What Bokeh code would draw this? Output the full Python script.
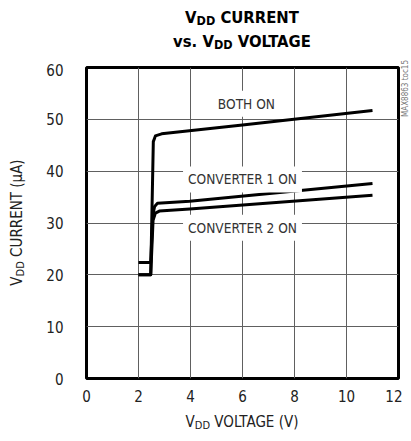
from bokeh.plotting import figure
from bokeh.models import Label, Range1d, FixedTicker, Div
from bokeh.layouts import row, column
from bokeh.embed import file_html
from bokeh.resources import INLINE

# ---- data ----
x_ticks = [0, 2, 4, 6, 8, 10, 12]
y_ticks = [0, 10, 20, 30, 40, 50, 60]

both_x = [2.0, 2.47, 2.57, 2.65, 2.89, 6.0, 11.0]
both_y = [20.0, 20.0, 45.7, 46.8, 47.2, 48.9, 51.7]

conv1_x = [2.0, 2.47, 2.55, 2.62, 2.73, 3.97, 11.0]
conv1_y = [22.4, 22.4, 31.5, 33.2, 33.8, 34.2, 37.6]

conv2_x = [2.0, 2.47, 2.56, 2.65, 2.8, 3.97, 11.0]
conv2_y = [20.0, 20.0, 30.5, 31.9, 32.3, 32.7, 35.35]

labels = ["BOTH ON", "CONVERTER 1 ON", "CONVERTER 2 ON"]
label_x = [6.15, 6.0, 6.0]
label_y = [53.0, 38.4, 29.1]

FONT = "'Liberation Sans Narrow', 'DejaVu Sans Condensed', 'Liberation Sans', sans-serif"

YL_W, TAG_W = 32, 9
B_LEFT, B_TOP, B_RIGHT, B_BOTTOM = 54, 4, 4, 30
FW, FH = 312, 311
TITLE_H = 63
FIG_W = B_LEFT + FW + B_RIGHT
FIG_H = B_TOP + FH + B_BOTTOM
TOTAL_H = 441
XL_H = TOTAL_H - TITLE_H - FIG_H

p = figure(frame_width=FW, frame_height=FH, min_border_left=B_LEFT, min_border_top=B_TOP,
           min_border_right=B_RIGHT, min_border_bottom=B_BOTTOM,
           output_backend="svg", toolbar_location=None,
           x_range=Range1d(0, 12), y_range=Range1d(0, 60))
p.background_fill_color = "white"
p.border_fill_color = "white"
p.outline_line_color = "black"
p.outline_line_width = 3

for ax, ticks, stand in ((p.xaxis, x_ticks, 11), (p.yaxis, y_ticks, 23)):
    ax.ticker = FixedTicker(ticks=ticks)
    ax.axis_line_color = None
    ax.major_tick_line_color = None
    ax.minor_tick_line_color = None
    ax.major_tick_out = 0
    ax.major_tick_in = 0
    ax.major_label_text_font = FONT
    ax.major_label_text_font_size = "15px"
    ax.major_label_text_color = "#222222"
    ax.major_label_standoff = stand

p.xgrid.ticker = FixedTicker(ticks=x_ticks)
p.ygrid.ticker = FixedTicker(ticks=y_ticks)
p.grid.grid_line_color = "#606060"
p.grid.grid_line_width = 1

for xs, ys in ((both_x, both_y), (conv1_x, conv1_y), (conv2_x, conv2_y)):
    p.line(xs, ys, line_color="black", line_width=3, line_join="round")

for t, lx, ly in zip(labels, label_x, label_y):
    p.add_layout(Label(x=lx, y=ly, text=t, text_align="center", text_baseline="middle",
                       text_font=FONT, text_font_size="13.6px", text_color="#333333",
                       background_fill_color="white", padding=5))

SUB = '<span style="font-size:{s}px;vertical-align:-{d}px">DD</span>'

title_html = (
    f'<div style="position:relative;width:{FIG_W}px;height:{TITLE_H}px;'
    f'font-family:{FONT};font-weight:bold;color:#000;font-size:16.5px;line-height:16.5px">'
    f'<div style="position:absolute;left:{B_LEFT}px;width:{FW}px;top:10px;text-align:center;white-space:nowrap">'
    f'V{SUB.format(s=12.5, d=2)} CURRENT</div>'
    f'<div style="position:absolute;left:{B_LEFT}px;width:{FW}px;top:34px;text-align:center;white-space:nowrap">'
    f'vs. V{SUB.format(s=12.5, d=2)} VOLTAGE</div></div>'
)
title_div = Div(text=title_html, width=FIG_W, height=TITLE_H, margin=0)

xl_html = (
    f'<div style="position:relative;width:{FIG_W}px;height:{XL_H}px;'
    f'font-family:{FONT};color:#222;font-size:15px;line-height:15px">'
    f'<div style="position:absolute;left:{B_LEFT}px;width:{FW}px;top:7px;text-align:center;white-space:nowrap">'
    f'V{SUB.format(s=11, d=2)} VOLTAGE (V)</div></div>'
)
xl_div = Div(text=xl_html, width=FIG_W, height=XL_H, margin=0)

frame_bottom = TITLE_H + B_TOP + FH
yl_html = (
    f'<div style="position:relative;width:{YL_W}px;height:{TOTAL_H}px;'
    f'font-family:{FONT};color:#222;font-size:15px;line-height:15px">'
    f'<div style="position:absolute;left:10px;top:{frame_bottom}px;width:{FH}px;text-align:center;'
    f'white-space:nowrap;transform-origin:0 0;transform:rotate(-90deg)">'
    f'V{SUB.format(s=11, d=2)} CURRENT (\u03bcA)</div></div>'
)
yl_div = Div(text=yl_html, width=YL_W, height=TOTAL_H, margin=0)

tag_html = (
    f'<div style="position:relative;width:{TAG_W}px;height:{TOTAL_H}px;'
    f'font-family:{FONT};color:#777;font-size:8px;line-height:8px">'
    f'<div style="position:absolute;left:0px;top:117px;width:80px;text-align:left;'
    f'white-space:nowrap;transform-origin:0 0;transform:rotate(-90deg)">MAX8863 toc15</div></div>'
)
tag_div = Div(text=tag_html, width=TAG_W, height=TOTAL_H, margin=0)

layout = row(yl_div, column(title_div, p, xl_div, spacing=0), tag_div, spacing=0)

open("out.html", "w").write(file_html(layout, INLINE))
